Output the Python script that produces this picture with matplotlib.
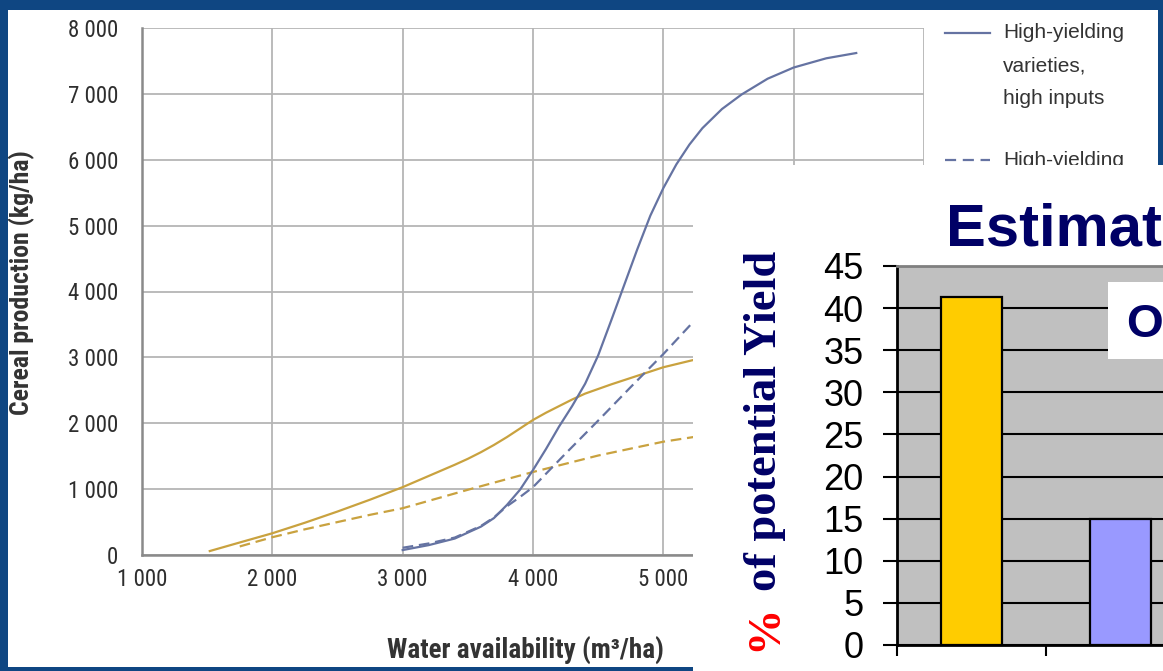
import matplotlib
matplotlib.use("Agg")
import matplotlib.pyplot as plt
from matplotlib.patches import Rectangle
from matplotlib.lines import Line2D
from matplotlib.ticker import FuncFormatter

# ---------------- data ----------------
# Line chart: cereal production (kg/ha) vs water availability (m3/ha)
hyv_high_x = [3000, 3200, 3400, 3600, 3700, 3800, 3900, 4000, 4100, 4200, 4300,
              4400, 4500, 4600, 4700, 4800, 4900, 5000, 5100, 5200, 5300, 5450,
              5600, 5800, 6000, 6250, 6480]
hyv_high_y = [75, 150, 250, 430, 560, 760, 990, 1290, 1610, 1950, 2260,
              2600, 3030, 3560, 4100, 4640, 5150, 5570, 5930, 6230, 6480, 6770,
              6990, 7230, 7400, 7540, 7620]

hyv_low_x = [3000, 3200, 3400, 3600, 3700, 3800, 3900, 4000, 4250, 4500, 4750, 5000, 5230]
hyv_low_y = [110, 175, 265, 440, 570, 740, 880, 1030, 1540, 2040, 2550, 3050, 3540]

trad_high_x = [1520, 1750, 2000, 2250, 2500, 2750, 3000, 3200, 3400, 3500, 3600,
               3700, 3800, 3900, 4000, 4100, 4200, 4300, 4400, 4600, 4800, 5000, 5230]
trad_high_y = [60, 190, 330, 490, 660, 840, 1030, 1200, 1370, 1460, 1560,
               1670, 1790, 1920, 2050, 2160, 2260, 2360, 2450, 2590, 2720, 2850, 2960]

trad_low_x = [1750, 2000, 2250, 2500, 2750, 3000, 3500, 4000, 4500, 5000, 5230]
trad_low_y = [130, 270, 390, 500, 610, 710, 990, 1260, 1510, 1720, 1790]

x_ticks = [1000, 2000, 3000, 4000, 5000, 6000, 7000]
y_ticks = [0, 1000, 2000, 3000, 4000, 5000, 6000, 7000, 8000]
legend_lines_1 = ["High-yielding", "varieties,", "high inputs"]
legend_lines_2 = ["High-yielding"]
x_label = "Water availability (m\u00b3/ha)"
y_label = "Cereal production (kg/ha)"

# Bar chart: % of potential yield
bar_values = [41.3, 15.0]
bar_colors = ["#ffcc00", "#9999ff"]
bar_y_ticks = [0, 5, 10, 15, 20, 25, 30, 35, 40, 45]
bar_title = "Estimated"
bar_note = "Overall"

# ---------------- layout helpers ----------------
W, H = 1163, 671
fig = plt.figure(figsize=(W / 100, H / 100), dpi=100, facecolor="#0f4682")


def fx(px):
    return px / W


def fy(py):
    return 1 - py / H


def rect(l, t, r, b):
    return [l / W, 1 - b / H, (r - l) / W, (b - t) / H]


# white slide panel behind the line chart
fig.add_artist(Rectangle((fx(8), fy(667)), (1158 - 8) / W, (667 - 10) / H,
                         transform=fig.transFigure, facecolor="white",
                         edgecolor="none", zorder=-1))

BLUE = "#6573a2"
GOLD = "#c9a23f"
GREY_TXT = "#333333"
COND = ["Liberation Sans Narrow", "Roboto Condensed", "DejaVu Sans"]
COND_KW = dict(family=COND, stretch="condensed")

# ---------------- line chart ----------------
ax = fig.add_axes(rect(142, 28, 924, 555), zorder=1)
ax.set_facecolor("white")
ax.plot(trad_high_x, trad_high_y, color=GOLD, lw=1.6)
ax.plot(trad_low_x, trad_low_y, color=GOLD, lw=1.6, dashes=(4.8, 2.6))
ax.plot(hyv_low_x, hyv_low_y, color=BLUE, lw=1.6, dashes=(4.8, 2.6))
ax.plot(hyv_high_x, hyv_high_y, color=BLUE, lw=1.6)

ax.set_xlim(1000, 7000)
ax.set_ylim(0, 8000)
ax.set_xticks(x_ticks)
ax.set_yticks(y_ticks)
fmt = FuncFormatter(lambda v, p: f"{int(v):,}".replace(",", " "))
ax.xaxis.set_major_formatter(fmt)
ax.yaxis.set_major_formatter(fmt)
ax.grid(True, color="#b5b5b5", lw=1.3)
ax.set_axisbelow(True)
for s in ["top", "right"]:
    ax.spines[s].set_visible(False)
for s in ["left", "bottom"]:
    ax.spines[s].set_color("#8a8a8a")
    ax.spines[s].set_linewidth(1.8)
ax.tick_params(axis="both", length=0, labelsize=16.5, labelcolor="#2e2e2e")
ax.tick_params(axis="y", pad=17)
ax.tick_params(axis="x", pad=9)
for lab in ax.get_xticklabels() + ax.get_yticklabels():
    lab.set_family(COND)
    lab.set_stretch("condensed")

fig.text(fx(22), fy(283), y_label, rotation=90, ha="center", va="center",
         fontsize=18.5, fontweight="bold", color=GREY_TXT, **COND_KW)
fig.text(fx(525), fy(651), x_label, ha="center", va="center",
         fontsize=19.5, fontweight="bold", color=GREY_TXT, **COND_KW)

# legend (manual, as in the source figure)
fig.add_artist(Line2D([fx(945), fx(990)], [fy(33), fy(33)], transform=fig.transFigure,
                      color=BLUE, lw=1.6))
fig.add_artist(Line2D([fx(945), fx(990)], [fy(160), fy(160)], transform=fig.transFigure,
                      color=BLUE, lw=1.6, dashes=(5, 3)))
for i, t in enumerate(legend_lines_1):
    fig.text(fx(1003), fy(33 + 32.5 * i), t, va="center", ha="left", fontsize=15,
             color=GREY_TXT, family=["Liberation Sans", "DejaVu Sans"])
for i, t in enumerate(legend_lines_2):
    fig.text(fx(1003), fy(160 + 32.5 * i), t, va="center", ha="left", fontsize=15,
             color=GREY_TXT, family=["Liberation Sans", "DejaVu Sans"])

# ---------------- overlay with the bar chart ----------------
fig.add_artist(Rectangle((fx(693), fy(671)), (W - 693) / W + 0.01, (671 - 165) / H,
                         transform=fig.transFigure, facecolor="white",
                         edgecolor="none", zorder=10))

axb = fig.add_axes(rect(897, 266, 897 + 3 * 149, 645), zorder=11)
axb.set_facecolor("#c0c0c0")
positions = list(range(len(bar_values)))
axb.bar(positions, bar_values, width=0.41, color=bar_colors, edgecolor="black",
        linewidth=1.6, zorder=3)
axb.set_xlim(-0.5, 2.5)
axb.set_ylim(0, 45)
axb.set_yticks(bar_y_ticks)
axb.set_xticks([p - 0.5 for p in positions] + [len(positions) - 0.5])
axb.set_xticklabels([])
axb.yaxis.grid(True, color="black", lw=1.5)
axb.set_axisbelow(True)
axb.spines["left"].set_color("black")
axb.spines["left"].set_linewidth(2)
axb.spines["bottom"].set_color("black")
axb.spines["bottom"].set_linewidth(2)
axb.spines["top"].set_color("#808080")
axb.spines["top"].set_linewidth(2)
axb.spines["right"].set_visible(False)
axb.tick_params(axis="y", length=10, width=1.5, labelsize=26, pad=14,
                labelcolor="black")
axb.tick_params(axis="x", length=8, width=1.5)
for lab in axb.get_yticklabels():
    lab.set_family(["Liberation Sans", "DejaVu Sans"])

fig.text(fx(946), fy(245), bar_title, ha="left", va="baseline", fontsize=43,
         fontweight="bold", color="#000066", family=["Liberation Sans", "DejaVu Sans"],
         zorder=12)

fig.add_artist(Rectangle((fx(1108), fy(359)), (W - 1108) / W + 0.01, (359 - 282) / H,
                         transform=fig.transFigure, facecolor="white",
                         edgecolor="none", zorder=12))
fig.text(fx(1126), fy(337), bar_note, ha="left", va="baseline", fontsize=34,
         fontweight="bold", color="#000066", family=["Liberation Sans", "DejaVu Sans"],
         zorder=13)

t1 = fig.text(fx(765), fy(651), "%", rotation=90, ha="center", va="bottom",
              fontsize=33.5, fontweight="bold", color="red",
              family=["Liberation Serif", "DejaVu Serif"], zorder=13)
axb.annotate("of potential Yield", xy=(0.5, 1.0), xycoords=t1,
             xytext=(0, 10), textcoords="offset points", rotation=90,
             ha="center", va="bottom", fontsize=33.5, fontweight="bold",
             color="#000066", family=["Liberation Serif", "DejaVu Serif"],
             annotation_clip=False)

fig.savefig("out.png", dpi=100, facecolor=fig.get_facecolor())
